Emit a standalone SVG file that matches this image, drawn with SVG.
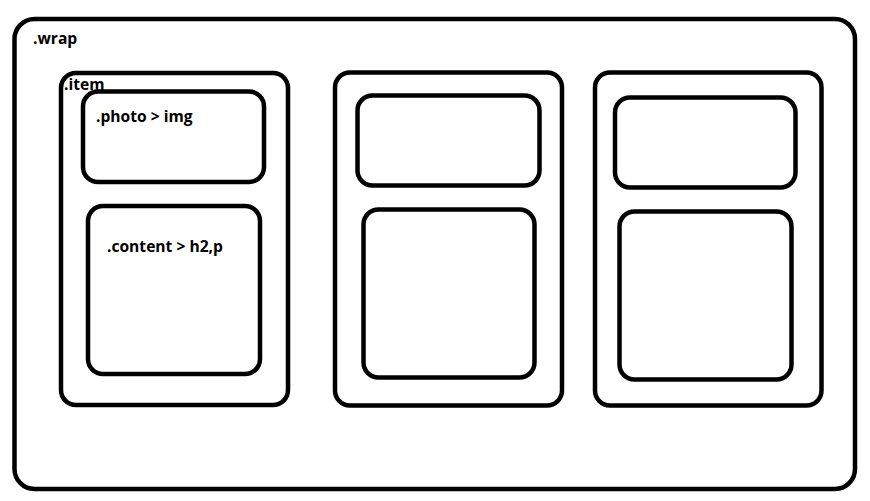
<svg xmlns="http://www.w3.org/2000/svg" width="870" height="501" viewBox="0 0 870 501">
<style>
.b{fill:none;stroke:#000;stroke-width:4.5}
.t{font-family:"Open Sans","Noto Sans",sans-serif;font-weight:bold;font-size:15.6px;fill:#000}
</style>
<rect width="870" height="501" fill="#fff"/>
<g id="wrap">
<rect class="b" x="14.5" y="19" width="840.5" height="470" rx="20"/>
<text class="t" x="33" y="44">.wrap</text>
</g>
<g id="item1">
<rect class="b" x="61" y="73" width="227" height="332" rx="15"/>
<text class="t" x="64" y="90">.item</text>
</g>
<g id="photo1">
<rect class="b" x="83" y="91.5" width="181" height="90.5" rx="15"/>
<text class="t" x="96" y="122">.photo &gt; img</text>
</g>
<g id="content1">
<rect class="b" x="88" y="206" width="172" height="168" rx="15"/>
<text class="t" x="107" y="252">.content &gt; h2,p</text>
</g>
<g id="item2">
<rect class="b" x="335" y="72.5" width="227" height="333" rx="15"/>
</g>
<g id="photo2">
<rect class="b" x="357.5" y="95.5" width="182" height="90" rx="15"/>
</g>
<g id="content2">
<rect class="b" x="363.5" y="209.5" width="171" height="168" rx="15"/>
</g>
<g id="item3">
<rect class="b" x="595" y="72.5" width="226.5" height="333" rx="15"/>
</g>
<g id="photo3">
<rect class="b" x="615" y="97.5" width="180.5" height="90" rx="15"/>
</g>
<g id="content3">
<rect class="b" x="619.5" y="211.5" width="172" height="168" rx="15"/>
</g>
<g id="connectors"></g>
</svg>
